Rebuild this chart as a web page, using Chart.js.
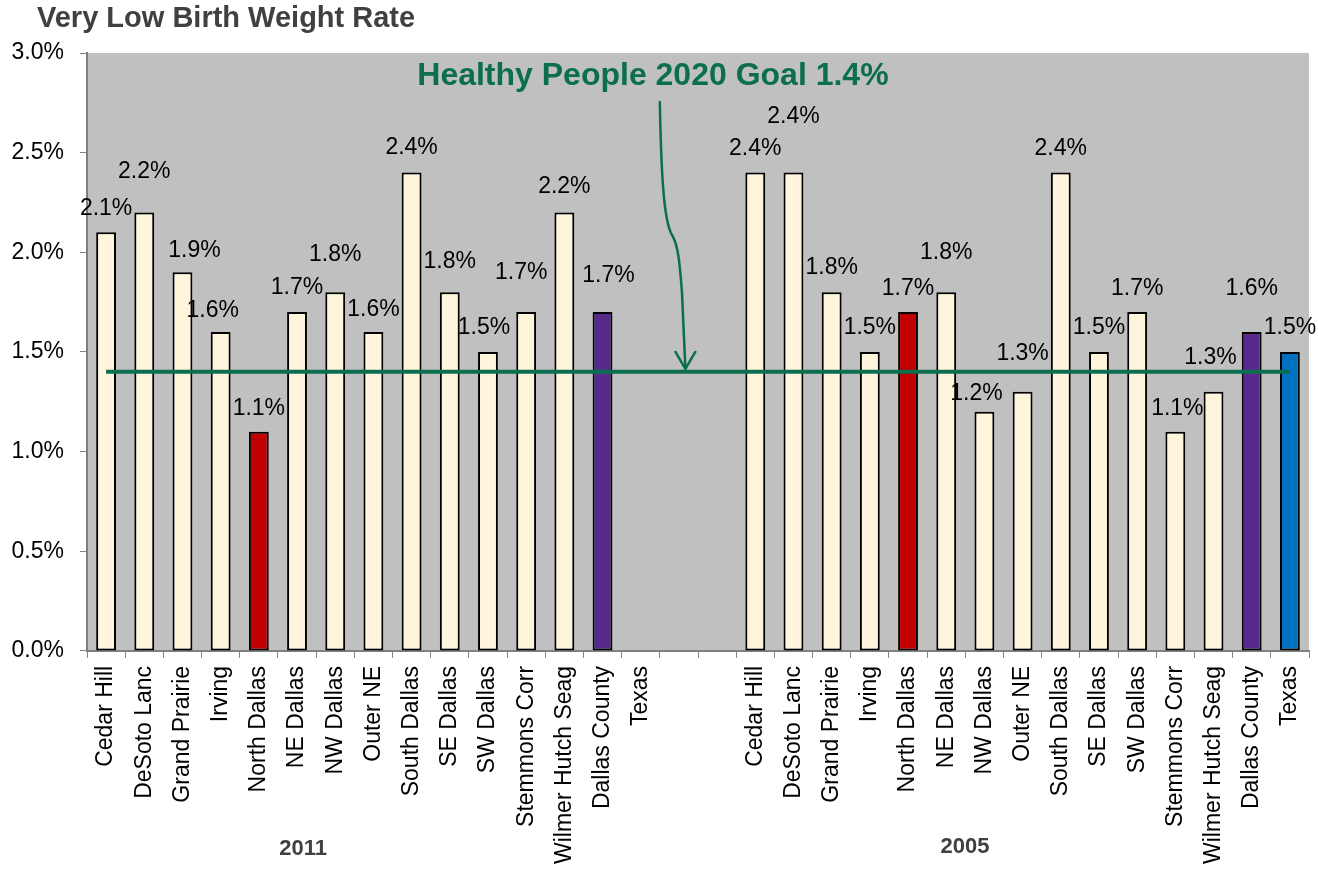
<!DOCTYPE html>
<html>
<head>
<meta charset="utf-8">
<title>Very Low Birth Weight Rate</title>
<script src="https://cdn.jsdelivr.net/npm/chart.js@4.4.1/dist/chart.umd.min.js"></script>
<style>
  html, body { margin: 0; padding: 0; background: #ffffff; }
  #vlbw-chart { display: block; }
</style>
</head>
<body>
<canvas id="vlbw-chart" width="1318" height="874"></canvas>
<script>
// Areas, shown in the same order for each year
const places = ['Cedar Hill', 'DeSoto Lanc', 'Grand Prairie', 'Irving', 'North Dallas', 'NE Dallas',
  'NW Dallas', 'Outer NE', 'South Dallas', 'SE Dallas', 'SW Dallas', 'Stemmons Corr',
  'Wilmer Hutch Seag', 'Dallas County', 'Texas'];
const years = ['2011', '2005'];
// percent of births, null where no bar is shown
const rate2011 = [2.1, 2.2, 1.9, 1.6, 1.1, 1.7, 1.8, 1.6, 2.4, 1.8, 1.5, 1.7, 2.2, 1.7, null];
const rate2005 = [2.4, 2.4, 1.8, 1.5, 1.7, 1.8, 1.2, 1.3, 2.4, 1.5, 1.7, 1.1, 1.3, 1.6, 1.5];
const goal = 1.4;
const yTicks = [0, 0.5, 1.0, 1.5, 2.0, 2.5, 3.0];

(function () {
  'use strict';

  const FONT = '"Liberation Sans", Arial, Helvetica, sans-serif';
  const GREEN = '#0b6e4f';
  const gap = ['', ''];

  const labels = places.concat(gap, places);
  const values = rate2011.concat(gap.map(() => null), rate2005);
  const last = labels.length - 1;

  const colorFor = name => {
    if (name === 'North Dallas') return '#c00000';
    if (name === 'Dallas County') return '#582a8c';
    if (name === 'Texas') return '#0070c0';
    return '#fff5dc';
  };
  const barColors = labels.map(colorFor);

  // label nudges in px: [dx, lift above bar top]
  const nudge = [
    [0, 24], [0, 41], [12, 22], [-8, 21], [0, 23], [0, 24], [0, 37], [0, 22],
    [0, 25], [0, 30], [-4, 24], [-5, 39], [0, 26], [6, 36], [0, 24],
    [0, 0], [0, 0],
    [0, 24], [0, 56], [0, 24], [0, 24], [0, 23], [0, 39], [-8, 18], [0, 38],
    [0, 24], [0, 24], [0, 23], [2, 23], [-3, 34], [0, 43], [0, 24]
  ];

  const plotBackground = {
    id: 'plotBackground',
    beforeDraw(chart) {
      const { ctx, chartArea: a } = chart;
      ctx.save();
      ctx.fillStyle = '#c0c0c0';
      ctx.fillRect(a.left, a.top, a.right - a.left, a.bottom - a.top);
      ctx.restore();
    }
  };

  const barValues = {
    id: 'barValues',
    afterDatasetsDraw(chart) {
      const { ctx } = chart;
      const meta = chart.getDatasetMeta(1);
      ctx.save();
      ctx.font = '23px ' + FONT;
      ctx.fillStyle = '#000000';
      ctx.textAlign = 'center';
      ctx.textBaseline = 'middle';
      meta.data.forEach((bar, i) => {
        const v = values[i];
        if (v === null) return;
        const n = nudge[i];
        ctx.fillText(v.toFixed(1) + '%', bar.x + n[0], bar.y - n[1]);
      });
      ctx.restore();
    }
  };

  const notes = {
    id: 'notes',
    afterDraw(chart) {
      const { ctx, chartArea: a } = chart;
      const xs = chart.scales.x;
      const ys = chart.scales.y;
      const px = (i, v) => [xs.getPixelForValue(i), ys.getPixelForValue(v)];
      ctx.save();

      // chart title
      ctx.font = 'bold 29px ' + FONT;
      ctx.fillStyle = '#404040';
      ctx.textAlign = 'left';
      ctx.textBaseline = 'middle';
      ctx.fillText('Very Low Birth Weight Rate', 37, 19);

      // goal callout
      const t = px(14.32, 2.884);
      ctx.font = 'bold 32px ' + FONT;
      ctx.fillStyle = GREEN;
      ctx.textAlign = 'center';
      ctx.fillText('Healthy People 2020 Goal ' + goal.toFixed(1) + '%', t[0], t[1]);

      // curved arrow pointing at the goal line
      const p0 = px(14.5, 2.754);
      const p1 = px(14.54, 2.35);
      const p2 = px(14.62, 2.14);
      const p3 = px(14.84, 2.08);
      const p4 = px(14.98, 2.03);
      const p5 = px(15.02, 1.95);
      const p6 = px(15.08, 1.8);
      const tip = px(15.17, 1.415);
      ctx.strokeStyle = GREEN;
      ctx.lineWidth = 2.5;
      ctx.lineCap = 'round';
      ctx.lineJoin = 'round';
      ctx.beginPath();
      ctx.moveTo(p0[0], p0[1]);
      ctx.bezierCurveTo(p1[0], p1[1], p2[0], p2[1], p3[0], p3[1]);
      ctx.bezierCurveTo(p4[0], p4[1], p5[0], p5[1], p6[0], p6[1]);
      ctx.lineTo(tip[0], tip[1]);
      ctx.stroke();
      const hl = px(14.91, 1.5);
      const hr = px(15.43, 1.5);
      ctx.beginPath();
      ctx.moveTo(hl[0], hl[1]);
      ctx.lineTo(tip[0], tip[1]);
      ctx.lineTo(hr[0], hr[1]);
      ctx.stroke();

      // year group labels under the category names
      ctx.font = 'bold 22px ' + FONT;
      ctx.fillStyle = '#404040';
      ctx.textAlign = 'center';
      ctx.fillText(years[0], xs.getPixelForValue(5.16), a.bottom + 198);
      ctx.fillText(years[1], xs.getPixelForValue(22.49), a.bottom + 196);
      ctx.restore();
    }
  };

  new Chart(document.getElementById('vlbw-chart'), {
    type: 'bar',
    data: {
      labels: labels,
      datasets: [
        {
          type: 'line',
          label: 'Goal',
          data: labels.map((_, i) => (i === 0 || i === last) ? goal : null),
          spanGaps: true,
          borderColor: GREEN,
          borderWidth: 4,
          pointRadius: 0,
          fill: false,
          order: 0
        },
        {
          label: 'Rate',
          data: values,
          backgroundColor: barColors,
          borderColor: '#000000',
          borderWidth: 2,
          borderSkipped: false,
          barPercentage: 0.52,
          categoryPercentage: 1.0,
          order: 1
        }
      ]
    },
    options: {
      responsive: false,
      animation: false,
      layout: {
        padding: { top: 53, left: 10, right: 9, bottom: 2 }
      },
      scales: {
        x: {
          offset: true,
          afterFit(scale) {
            scale.paddingLeft = 0;
            scale.paddingRight = 0;
          },
          grid: {
            display: true,
            offset: true,
            drawOnChartArea: false,
            drawTicks: true,
            tickLength: 7,
            color: '#808080'
          },
          border: { display: true, color: '#808080', width: 2 },
          ticks: {
            autoSkip: false,
            minRotation: 90,
            maxRotation: 90,
            padding: 8,
            color: '#000000',
            font: { family: FONT, size: 23 }
          }
        },
        y: {
          min: yTicks[0],
          max: yTicks[yTicks.length - 1],
          afterBuildTicks(scale) {
            scale.ticks = yTicks.map(v => ({ value: v }));
          },
          afterFit(scale) {
            scale.width = 77;
          },
          grid: {
            display: true,
            drawOnChartArea: false,
            drawTicks: true,
            tickLength: 7,
            color: '#808080'
          },
          border: { display: true, color: '#808080', width: 2 },
          ticks: {
            padding: 16,
            color: '#000000',
            font: { family: FONT, size: 23 },
            callback: v => Number(v).toFixed(1) + '%'
          }
        }
      },
      plugins: {
        legend: { display: false },
        tooltip: { enabled: false },
        title: { display: false }
      }
    },
    plugins: [plotBackground, barValues, notes]
  });
})();
</script>
</body>
</html>
